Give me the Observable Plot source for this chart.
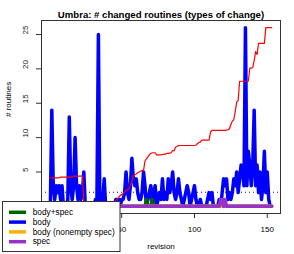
<!DOCTYPE html>
<html><head><meta charset="utf-8">
<script src="https://cdn.jsdelivr.net/npm/d3@7"></script>
<script src="https://cdn.jsdelivr.net/npm/@observablehq/plot@0.6"></script>
<style>body{margin:0;background:#fff} #chart{width:294px;height:254px}</style>
</head><body><div id="chart"></div>
<script>
const title = "Umbra: # changed routines (types of change)";
const xLabel = "revision";
const yLabel = "# routines";
const xTicks = [0, 50, 100, 150];
const yTicks = [5, 10, 15, 20, 25];
const revisions = d3.range(1, 154);

// "body" changes per revision
const body = [
  0,14,3,1,3,2,3,1,3,0,
  0,0,1,13,3,1,3,10,3,1,
  3,1,2,5,0,0,0,0,0,0,
  0,1,1,25,0,0,1,4,0,0,
  0,0,0,0,0,1,1,1,0,1,
  1,2,5,2,1,3,7,4,3,4,
  2,1,1,2,5,3,0,1,2,3,
  0,2,3,0,1,2,1,4,1,2,
  1,4,2,3,5,2,1,2,4,2,
  1,0,1,2,3,2,0,1,2,3,
  1,0,0,1,0,0,0,0,1,2,
  1,2,0,0,0,0,1,0,2,4,
  3,4,1,2,1,2,4,3,5,2,
  4,6,5,3,26,3,8,6,3,6,
  14,3,6,2,5,1,3,8,2,5,
  1,0,0
];
// red running line
const running = [
  4.15,4.15,4.15,4.15,4.15,4.15,4.15,4.25,4.25,4.25,
  4.25,4.25,4.25,4.25,4.25,4.25,4.4,4.4,4.4,4.4,
  4.4,4.4,4.45,0.4,0.4,0.4,0.4,0.4,0.4,0.4,
  0.4,0.4,0.4,0.4,0.4,0.4,0.4,0.4,0.4,0.4,
  0.4,0.4,0.4,0.4,0.4,0.9,1.0,1.3,1.6,1.7,
  1.8,2.1,2.3,2.4,2.6,3.2,3.5,4.5,4.6,4.7,
  4.9,5.0,5.1,5.2,5.2,6.6,6.9,7.2,7.5,7.7,
  7.8,7.8,7.8,7.5,7.5,7.5,7.5,7.55,7.6,7.6,
  7.7,7.7,7.75,7.8,8.1,8.1,8.6,8.7,8.85,8.85,
  8.85,8.85,8.85,8.85,8.85,8.85,8.85,8.85,8.85,8.85,
  8.9,9.1,9.3,9.35,9.65,9.65,9.65,9.65,9.65,9.65,
  10.8,11.05,11.05,11.05,11.05,11.05,11.05,11.05,11.05,11.05,
  11.05,11.1,11.15,11.3,11.9,12.4,12.6,13.8,15.2,15.4,
  18.2,18.2,18.2,18.2,18.2,18.2,18.2,20.1,20.1,20.2,
  21.2,22.5,22.1,23.7,23.7,23.7,23.7,23.7,26,26,
  26,26,26
];
// sparse series: [revision, value], all other revisions are 0
const bodySpecNonzero = [[67, 1], [71, 1]];
const bodyNonemptySpecNonzero = [];
const specNonzero = [[118, 1], [119, 1], [121, 1]];
const bodyMean = 2.05;

const seriesNames = ["body+spec", "body", "body (nonempty spec)", "spec"];
const seriesColors = ["#006400", "#0000ff", "#ffb000", "#9932cc"];

function fromSparse(pairs) {
  const m = new Map(pairs);
  return revisions.map(r => m.get(r) ?? 0);
}
const bodySpec = fromSparse(bodySpecNonzero);
const bodyNonempty = fromSparse(bodyNonemptySpecNonzero);
const spec = fromSparse(specNonzero);

const rows = revisions.map((r, i) => ({
  rev: r, body: body[i], running: running[i],
  bodySpec: bodySpec[i], bodyNonempty: bodyNonempty[i], spec: spec[i]
}));

const lw = 3.5;
const plot = Plot.plot({
  width: 294, height: 254,
  marginLeft: 41, marginRight: 14, marginTop: 20, marginBottom: 41,
  x: {domain: [-5.08, 159.08]},
  y: {domain: [-1.04, 27.04]},
  style: {fontFamily: "'Liberation Sans', Arial, sans-serif", fontSize: "8px", background: "white", color: "#000"},
  marks: [
    Plot.line(rows, {x: "rev", y: "body", stroke: seriesColors[1], strokeWidth: lw}),
    Plot.line(rows, {x: "rev", y: "bodySpec", stroke: seriesColors[0], strokeWidth: lw}),
    Plot.line(rows, {x: "rev", y: "running", stroke: "#ff0000", strokeWidth: 1.2}),
    Plot.ruleY([bodyMean], {stroke: "#0000ff", strokeWidth: 1, strokeDasharray: "1,3"}),
    Plot.line(rows, {x: "rev", y: "bodyNonempty", stroke: seriesColors[2], strokeWidth: lw}),
    Plot.line(rows, {x: "rev", y: "spec", stroke: seriesColors[3], strokeWidth: lw}),
    Plot.frame({stroke: "#333"}),
    Plot.axisX({ticks: xTicks, tickSize: 5, tickPadding: 8, label: null, stroke: "#333", fontSize: 8}),
    Plot.axisY({ticks: yTicks, tickSize: 5, tickFormat: () => "", label: null, stroke: "#333"}),
    Plot.text(yTicks, {y: d => d, text: d => String(d), frameAnchor: "left", dx: -16, rotate: -90, fontSize: 8, fill: "#222"}),
    Plot.text([xLabel], {frameAnchor: "bottom", dy: 35.4, fontSize: 8}),
    Plot.text([yLabel], {frameAnchor: "left", dx: -33, rotate: -90, fontSize: 8}),
    Plot.text([title], {frameAnchor: "top", dy: -9.1, fontSize: 9.6, fontWeight: "bold"})
  ]
});
document.getElementById("chart").appendChild(plot);

// legend (overlapping the plot, bottom-left)
const svg = d3.select(plot);
const lg = svg.append("g").attr("text-anchor", "start");
lg.append("rect").attr("x", 2.5).attr("y", 201.5).attr("width", 117.5).attr("height", 50)
  .attr("fill", "white").attr("stroke", "#333").attr("stroke-width", 1);
seriesNames.forEach((name, i) => {
  const y = 212.3 + i * 9.8;
  lg.append("line").attr("x1", 9).attr("x2", 26).attr("y1", y).attr("y2", y)
    .attr("stroke", seriesColors[i]).attr("stroke-width", lw);
  lg.append("text").attr("x", 32.7).attr("y", y).attr("dy", "0.32em")
    .attr("text-anchor", "start").attr("font-size", 8.3).attr("fill", "#000").text(name);
});
</script>
</body></html>
